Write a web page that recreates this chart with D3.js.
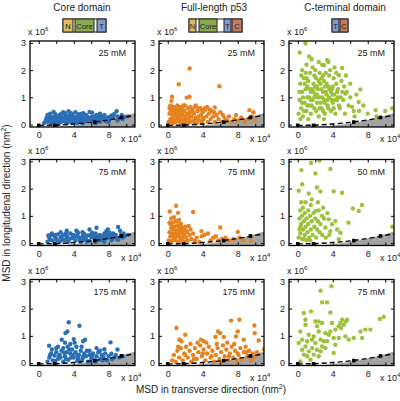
<!DOCTYPE html>
<html><head><meta charset="utf-8">
<script src="https://d3js.org/d3.v7.min.js"></script>
<style>body{margin:0;background:#fff}svg{display:block}text{font-family:"Liberation Sans",Arial,sans-serif;fill:#222;font-weight:normal}</style>
</head><body>
<svg id="c" width="400" height="401"></svg>
<script>
// ---------- data (x in units of 1e4 nm^2, y in units of 1e6 nm^2) ----------
const columnTitles = ["Core domain", "Full-length p53", "C-terminal domain"];
const concLabels = [["25 mM","25 mM","25 mM"],["75 mM","75 mM","50 mM"],["175 mM","175 mM","75 mM"]];
const xTicks = [0,2,4,6,8,10];
const xTickLabels = [0,4,8];
const yTicks = [0,1,2,3];
const seriesColors = ["#2a6fb6","#e6821f","#9cc23c"];

const core25 = [[0.6,0.05],[0.8,0.15],[1.0,0.1],[1.2,0.22],[1.3,0.4],[1.4,0.05],[1.5,0.28],[1.6,0.12],[1.7,0.46],[1.8,0.2],[1.9,0.08],[2.0,0.3],[2.1,0.16],[2.2,0.25],[2.3,0.05],[2.4,0.35],[2.5,0.18],[2.6,0.1],[2.7,0.27],[2.8,0.45],[2.9,0.2],[3.0,0.12],[3.1,0.32],[3.2,0.05],[3.3,0.22],[3.4,0.49],[3.5,0.15],[3.6,0.28],[3.7,0.08],[3.8,0.38],[3.9,0.2],[4.0,0.3],[4.1,0.12],[4.2,0.45],[4.3,0.24],[4.4,0.06],[4.5,0.33],[4.6,0.17],[4.7,0.26],[4.8,0.1],[4.9,0.4],[5.0,0.2],[5.1,0.3],[5.2,0.08],[5.3,0.23],[5.4,0.35],[5.5,0.14],[5.6,0.28],[5.8,0.46],[5.9,0.2],[6.0,0.1],[6.1,0.3],[6.3,0.22],[6.5,0.15],[6.6,0.35],[6.8,0.25],[7.0,0.4],[7.1,0.18],[7.3,0.3],[7.5,0.22],[7.7,0.12],[7.9,0.27],[8.1,0.2],[8.3,0.33],[8.5,0.25],[8.9,0.49],[9.0,0.3],[9.2,0.22],[9.5,0.35],[9.8,0.28],[10.2,0.3],[1.1,0.3],[2.0,0.05],[3.0,0.25],[4.0,0.15],[5.0,0.05],[6.0,0.25],[7.0,0.1],[1.5,0.15],[2.5,0.3],[3.5,0.35],[4.5,0.1],[5.5,0.3],[6.5,0.05],[7.5,0.35],[0.9,0.25],[1.3,0.18],[2.2,0.1],[3.3,0.12],[4.2,0.2],[5.2,0.18],[6.2,0.15],[8.0,0.1],[9.0,0.15],[1.0,0.35],[1.9,0.38],[2.6,0.4],[3.0,0.42],[3.7,0.42],[4.6,0.38],[5.1,0.42],[6.1,0.44],[6.9,0.3],[8.6,0.38],[9.6,0.2],[1.7,0.25],[2.4,0.2],[3.2,0.3],[4.4,0.28],[5.7,0.22],[6.4,0.3],[7.2,0.25],[8.2,0.28]];
const core75 = [[6.6,0.56],[9.07,0.59],[7.73,0.44],[7.5,0.35],[7.9,0.5],[2.5,0.4],[3.2,0.45],[4.3,0.45],[5.0,0.4],[5.8,0.5],[6.5,0.35],[8.5,0.35],[9.3,0.45],[9.7,0.35],[1.0,0.05],[1.2,0.2],[1.4,0.3],[1.6,0.1],[1.8,0.25],[2.0,0.15],[2.2,0.32],[2.4,0.05],[2.6,0.22],[2.8,0.3],[3.0,0.12],[3.2,0.25],[3.4,0.05],[3.6,0.35],[3.8,0.18],[4.0,0.28],[4.2,0.1],[4.4,0.3],[4.6,0.2],[4.8,0.05],[5.0,0.25],[5.2,0.33],[5.4,0.15],[5.6,0.28],[5.8,0.08],[6.0,0.22],[6.2,0.3],[6.4,0.12],[6.6,0.25],[6.8,0.18],[7.0,0.3],[7.2,0.1],[7.4,0.24],[7.6,0.15],[7.8,0.3],[8.0,0.2],[8.2,0.28],[8.4,0.15],[8.6,0.25],[8.8,0.3],[9.0,0.2],[9.4,0.3],[9.8,0.25],[10.2,0.3],[1.5,0.35],[2.5,0.2],[3.5,0.15],[4.5,0.38],[5.5,0.05],[6.5,0.05],[7.5,0.05],[1.1,0.28],[2.1,0.1],[3.1,0.35],[4.1,0.2],[5.1,0.12],[6.1,0.38],[7.1,0.22],[8.1,0.38],[9.1,0.12],[1.3,0.12],[1.9,0.3],[2.7,0.12],[3.3,0.2],[3.9,0.3],[4.7,0.12],[5.3,0.22],[5.9,0.3],[6.3,0.2],[6.9,0.1],[7.7,0.25],[8.3,0.1],[8.9,0.15],[9.6,0.2]];
const core175 = [[3.43,1.5],[4.65,1.37],[3.27,1.16],[3.05,1.1],[4.0,0.88],[2.63,0.86],[5.3,0.86],[5.07,0.8],[1.18,0.64],[8.2,0.76],[7.5,0.51],[6.6,0.55],[8.3,0.34],[9.0,0.5],[2.0,0.55],[2.8,0.55],[3.6,0.7],[4.3,0.6],[3.0,0.75],[5.8,0.45],[1.0,0.05],[1.2,0.2],[1.4,0.35],[1.6,0.1],[1.8,0.28],[2.0,0.4],[2.2,0.15],[2.4,0.3],[2.6,0.45],[2.8,0.05],[3.0,0.25],[3.2,0.4],[3.4,0.12],[3.6,0.35],[3.8,0.5],[4.0,0.2],[4.2,0.4],[4.4,0.08],[4.6,0.3],[4.8,0.45],[5.0,0.15],[5.2,0.35],[5.4,0.25],[5.6,0.05],[5.8,0.3],[6.0,0.18],[6.2,0.35],[6.4,0.1],[6.6,0.25],[6.8,0.4],[7.0,0.15],[7.2,0.3],[7.4,0.2],[7.6,0.35],[7.8,0.1],[8.0,0.25],[8.4,0.15],[8.8,0.3],[9.2,0.2],[9.6,0.25],[1.5,0.5],[2.5,0.2],[3.5,0.5],[4.5,0.18],[5.5,0.45],[6.5,0.05],[2.2,0.6],[3.3,0.6],[4.1,0.75],[4.9,0.6],[1.9,0.08],[2.9,0.38],[3.9,0.3],[4.7,0.05],[5.9,0.05],[7.0,0.45],[1.3,0.3],[2.3,0.25],[3.1,0.15],[3.7,0.2],[4.4,0.3],[5.1,0.25],[6.1,0.25],[7.3,0.1],[8.6,0.2]];

const fl25 = [[2.5,2.06],[1.26,1.48],[5.9,1.41],[2.17,0.99],[2.48,1.02],[0.5,1.02],[0.42,0.87],[5.37,0.63],[9.33,0.53],[0.1,0.1],[0.2,0.4],[0.3,0.7],[0.3,0.2],[0.4,0.55],[0.5,0.05],[0.5,0.35],[0.6,0.65],[0.7,0.15],[0.7,0.45],[0.8,0.3],[0.9,0.6],[0.9,0.1],[1.0,0.4],[1.1,0.2],[1.1,0.7],[1.2,0.5],[1.3,0.1],[1.3,0.3],[1.4,0.6],[1.5,0.2],[1.5,0.45],[1.6,0.05],[1.7,0.35],[1.7,0.65],[1.8,0.15],[1.9,0.5],[2.0,0.25],[2.0,0.7],[2.1,0.05],[2.2,0.4],[2.3,0.6],[2.4,0.2],[2.5,0.45],[2.6,0.1],[2.7,0.3],[2.8,0.55],[2.9,0.15],[3.0,0.4],[3.1,0.65],[3.2,0.25],[3.3,0.05],[3.4,0.5],[3.5,0.3],[3.6,0.15],[3.7,0.6],[3.8,0.35],[3.9,0.1],[4.0,0.45],[4.1,0.2],[4.3,0.55],[4.4,0.3],[4.6,0.1],[4.7,0.4],[4.9,0.2],[5.0,0.5],[5.2,0.3],[5.4,0.1],[5.6,0.35],[5.8,0.2],[6.0,0.45],[6.2,0.1],[6.5,0.25],[6.8,0.15],[7.0,0.3],[7.3,0.1],[7.6,0.2],[8.0,0.15],[8.4,0.25],[8.8,0.1],[9.2,0.2],[9.6,0.3],[10.0,0.15],[0.2,0.6],[0.6,0.25],[1.0,0.55],[1.4,0.4],[1.8,0.7],[2.2,0.15],[2.6,0.65],[3.0,0.1],[3.4,0.2],[3.8,0.55],[4.2,0.6],[0.8,0.5],[1.2,0.15],[1.6,0.55],[2.4,0.35],[4.5,0.65],[3.2,0.7],[0.4,0.15],[0.3,0.45],[0.6,0.05],[1.0,0.25],[1.5,0.65],[1.9,0.3],[2.3,0.05],[2.9,0.45],[3.5,0.6],[4.0,0.25],[4.8,0.55],[5.3,0.45],[6.3,0.35],[7.8,0.35],[9.8,0.45]];
const fl75 = [[0.95,1.37],[0.23,1.16],[1.18,1.11],[2.9,1.14],[1.1,0.81],[2.4,0.63],[6.0,0.57],[3.85,0.44],[8.0,0.41],[0.1,0.1],[0.2,0.4],[0.3,0.7],[0.3,0.25],[0.4,0.9],[0.4,0.55],[0.5,0.1],[0.5,0.35],[0.6,0.75],[0.6,0.5],[0.7,0.2],[0.7,0.95],[0.8,0.6],[0.8,0.35],[0.9,0.1],[0.9,0.8],[1.0,0.45],[1.0,0.25],[1.1,0.65],[1.2,0.05],[1.2,0.35],[1.3,0.55],[1.3,0.85],[1.4,0.2],[1.4,0.45],[1.5,0.7],[1.5,0.1],[1.6,0.35],[1.7,0.55],[1.7,0.2],[1.8,0.45],[1.9,0.05],[1.9,0.3],[2.0,0.6],[2.1,0.2],[2.2,0.4],[2.3,0.1],[2.5,0.3],[2.7,0.15],[2.9,0.35],[3.1,0.1],[3.3,0.2],[3.6,0.05],[3.9,0.25],[4.2,0.3],[4.6,0.35],[4.9,0.1],[5.2,0.2],[5.5,0.25],[5.8,0.1],[6.2,0.15],[6.6,0.2],[7.0,0.1],[7.5,0.15],[8.2,0.2],[8.6,0.1],[9.5,0.1],[0.2,0.75],[0.5,0.6],[0.8,0.15],[1.1,0.4],[1.4,0.65],[1.6,0.15],[2.1,0.45],[0.35,0.05],[0.65,0.3],[1.25,0.25],[2.6,0.5]];
const fl175 = [[0.99,1.29],[1.33,0.86],[1.56,0.8],[2.0,1.04],[3.8,0.86],[4.08,0.81],[5.45,0.96],[5.75,1.16],[6.0,1.1],[6.4,0.96],[7.24,1.56],[8.19,1.59],[8.0,1.16],[7.8,0.98],[9.9,1.38],[9.94,1.1],[10.4,0.83],[8.69,0.86],[11.0,0.51],[0.5,0.1],[0.7,0.3],[0.9,0.05],[1.1,0.45],[1.3,0.2],[1.5,0.55],[1.7,0.1],[1.9,0.35],[2.1,0.6],[2.3,0.2],[2.5,0.45],[2.7,0.05],[2.9,0.3],[3.1,0.55],[3.3,0.15],[3.5,0.4],[3.7,0.65],[3.9,0.25],[4.1,0.5],[4.3,0.1],[4.5,0.35],[4.7,0.6],[4.9,0.2],[5.1,0.45],[5.3,0.05],[5.5,0.3],[5.7,0.55],[5.9,0.15],[6.1,0.4],[6.3,0.65],[6.5,0.25],[6.7,0.5],[6.9,0.1],[7.1,0.35],[7.3,0.6],[7.5,0.2],[7.7,0.45],[7.9,0.05],[8.1,0.3],[8.3,0.55],[8.5,0.15],[8.7,0.4],[8.9,0.6],[9.1,0.25],[9.3,0.45],[9.5,0.1],[9.7,0.35],[9.9,0.2],[10.2,0.4],[2.0,0.3],[3.0,0.15],[4.0,0.35],[5.0,0.25],[6.0,0.05],[7.0,0.25],[8.0,0.35],[9.0,0.4],[2.6,0.7],[4.4,0.75],[6.8,0.75],[1.2,0.6],[3.4,0.75],[5.6,0.7],[7.6,0.7]];

const ct25 = [[0.88,2.98],[0.23,2.65],[3.35,2.37],[3.5,2.3],[3.0,2.18],[5.07,2.08],[4.7,1.81],[7.16,1.29],[6.97,0.83],[5.45,1.14],[6.2,0.65],[10.0,0.5],[8.9,0.53],[0.1,0.4],[0.2,0.9],[0.3,1.5],[0.4,0.6],[0.5,1.2],[0.5,2.0],[0.6,0.3],[0.7,1.7],[0.8,0.8],[0.9,1.3],[1.0,0.5],[1.0,2.2],[1.1,1.0],[1.2,1.6],[1.3,0.7],[1.4,1.9],[1.5,1.2],[1.5,0.4],[1.6,2.4],[1.7,0.9],[1.8,1.5],[1.9,0.6],[2.0,1.1],[2.0,2.0],[2.1,1.7],[2.2,0.8],[2.3,1.3],[2.4,0.3],[2.5,1.9],[2.5,1.0],[2.6,1.5],[2.7,0.6],[2.8,2.2],[2.9,1.2],[3.0,0.9],[3.0,1.6],[3.1,0.4],[3.2,1.9],[3.3,1.1],[3.4,0.7],[3.5,1.4],[3.6,1.0],[3.7,2.0],[3.8,0.5],[3.9,1.3],[4.0,0.8],[4.1,1.7],[4.2,1.1],[4.3,0.4],[4.4,1.5],[4.5,0.9],[4.6,1.3],[4.8,0.6],[5.0,1.6],[5.2,0.9],[5.4,0.4],[5.6,1.2],[5.8,0.7],[6.0,1.0],[6.4,0.5],[6.7,1.1],[7.5,0.7],[8.0,0.4],[0.3,0.2],[0.6,1.0],[0.9,1.9],[1.2,0.2],[1.4,1.3],[1.7,2.1],[1.9,1.0],[2.2,1.4],[2.4,2.3],[2.7,1.7],[3.0,0.2],[3.3,1.5],[3.6,1.8],[3.9,0.9],[4.2,2.1],[4.5,1.2],[4.9,1.0],[5.3,1.4],[0.4,1.8],[0.7,0.5],[1.1,1.4],[1.3,2.5],[1.6,0.7],[2.1,0.5],[2.3,1.0],[2.6,0.8],[2.9,1.8],[3.2,1.2],[3.5,0.6],[3.8,1.2],[4.1,0.6],[4.4,1.9],[4.7,0.7],[5.5,1.8],[6.0,1.5],[6.5,0.3],[7.0,0.5],[9.0,0.3],[10.8,0.6],[0.2,1.2],[0.8,1.5],[1.5,0.9],[2.0,1.4],[2.8,1.0],[3.4,0.9],[4.0,1.4],[4.6,1.0],[1.1,0.7],[1.8,1.2],[2.5,0.6],[3.1,1.4],[0.5,0.8],[1.0,1.7],[1.3,1.0],[1.7,1.3],[2.2,1.1],[2.4,1.6],[2.7,1.3],[3.1,0.8],[3.6,1.3],[4.0,1.1],[4.3,0.9],[5.1,1.2],[1.9,1.8],[2.9,0.5]];
const ct50 = [[2.48,3.03],[1.52,2.94],[0.42,2.68],[3.73,2.72],[2.02,2.56],[0.5,2.16],[0.11,1.92],[1.26,1.82],[2.2,2.04],[2.59,1.9],[4.11,1.9],[5.07,1.85],[6.3,1.27],[7.35,1.4],[6.97,1.18],[10.8,0.6],[4.69,0.14],[4.3,0.81],[4.88,0.38],[3.16,0.57],[3.73,0.44],[2.02,1.18],[2.78,1.0],[3.54,0.87],[3.92,0.69],[4.5,0.5],[5.8,0.75],[0.1,0.2],[0.2,0.5],[0.2,0.9],[0.3,1.2],[0.3,0.35],[0.4,0.7],[0.5,1.0],[0.5,0.15],[0.6,0.5],[0.6,1.3],[0.7,0.8],[0.8,0.3],[0.8,1.1],[0.9,0.6],[1.0,0.9],[1.0,0.1],[1.1,0.4],[1.2,1.2],[1.2,0.7],[1.3,0.2],[1.4,1.0],[1.5,0.5],[1.6,0.8],[1.7,0.3],[1.8,1.1],[1.9,0.6],[2.0,0.9],[2.1,0.2],[2.2,0.5],[2.3,0.8],[2.4,1.2],[2.5,0.4],[2.6,0.7],[2.8,0.3],[3.0,0.9],[3.2,0.2],[3.4,1.1],[3.6,0.3],[0.4,1.5],[0.9,1.5],[1.5,1.4],[2.3,1.5],[0.7,0.15],[1.4,0.1],[0.3,0.6],[1.6,1.6],[2.9,1.3]];
const ct75 = [[3.85,2.82],[2.6,2.66],[2.78,2.23],[3.35,2.23],[1.52,1.9],[0.69,1.84],[3.73,1.86],[5.07,1.59],[5.64,1.59],[9.83,1.69],[9.37,1.62],[8.3,1.23],[7.73,1.23],[4.95,1.29],[6.4,0.92],[5.45,0.98],[7.35,0.92],[0.11,0.74],[0.88,1.59],[0.88,1.41],[2.02,1.53],[2.4,1.53],[2.2,1.35],[2.78,1.47],[0.3,1.16],[1.26,1.04],[1.83,0.98],[2.4,1.16],[3.16,1.1],[3.54,1.04],[3.73,1.16],[4.3,1.23],[4.69,1.35],[5.26,1.41],[5.5,1.53],[4.69,0.92],[5.83,0.86],[4.3,0.67],[4.11,0.37],[0.5,0.49],[0.88,0.61],[1.26,0.43],[1.64,0.55],[1.83,0.31],[2.2,0.49],[2.6,0.43],[2.78,0.61],[1.45,0.12],[0.3,0.06],[2.97,0.8],[3.35,0.8],[0.5,0.86],[1.07,0.8],[1.64,0.86],[2.02,0.74],[2.6,0.86],[4.11,0.92],[0.69,0.31],[1.07,0.25],[2.4,0.25],[3.16,0.55],[3.92,1.47],[4.88,1.47],[7.16,1.16]];

// mean MSD values with error bars, dashed model line, and shaded region boundary
const meanX = [0, 1.8, 6.4, 9.45];
const meanY = [-0.03, -0.03, 0.09, 0.26];
const meanErr = [0.03, 0.03, 0.05, 0.06];
const modelLine = [[0,-0.03],[2,-0.02],[4,0.02],[6,0.08],[8,0.17],[10,0.28],[11,0.34]];
const shadeTop = [[1.5,-0.09],[3,-0.07],[5,0.0],[7,0.1],[9,0.24],[11,0.42]];

const panelData = [[core25, fl25, ct25],[core75, fl75, ct50],[core175, fl175, ct75]];

// ---------- layout ----------
const colLeft = [30, 159, 289];
const rowTop = [41, 159.5, 279.5];
const PW = 105, PH = 86;
const svg = d3.select("#c");
const x = d3.scaleLinear().domain([-1, 11]).range([0, PW]);
const y = d3.scaleLinear().domain([-0.09, 3.07]).range([PH, 0]);

svg.append("defs").append("clipPath").attr("id","clip").append("rect").attr("width",PW).attr("height",PH);

for (let r = 0; r < 3; r++) {
  for (let c = 0; c < 3; c++) {
    const g = svg.append("g").attr("transform", `translate(${colLeft[c]},${rowTop[r]})`);
    const inner = g.append("g").attr("clip-path","url(#clip)");
    inner.append("path").datum(shadeTop)
      .attr("d", d3.area().x(d=>x(d[0])).y0(PH).y1(d=>y(d[1])).curve(d3.curveMonotoneX))
      .attr("fill", "#a3a3a3");
    inner.selectAll("circle").data(panelData[r][c]).join("circle")
      .attr("cx", d=>x(d[0])).attr("cy", d=>y(d[1])).attr("r", 2.2)
      .attr("fill", seriesColors[c]);
    inner.append("path").datum(modelLine)
      .attr("d", d3.line().x(d=>x(d[0])).y(d=>y(d[1])).curve(d3.curveMonotoneX))
      .attr("fill","none").attr("stroke","#000").attr("stroke-width",1.4).attr("stroke-dasharray","5,3");
    meanX.forEach((mx,i) => {
      inner.append("line").attr("x1",x(mx)).attr("x2",x(mx))
        .attr("y1",y(meanY[i]-meanErr[i])).attr("y2",y(meanY[i]+meanErr[i]))
        .attr("stroke","#000").attr("stroke-width",1.2);
      inner.append("rect").attr("x",x(mx)-1.8).attr("y",y(meanY[i])-1.8)
        .attr("width",3.6).attr("height",3.6).attr("fill","#000");
    });
    const ax = g.append("g");
    ax.append("g").attr("transform",`translate(0,${PH})`)
      .call(d3.axisBottom(x).tickValues(xTicks).tickSize(-3).tickPadding(5)
        .tickFormat(d => xTickLabels.includes(d) ? d3.format("d")(d) : ""));
    ax.append("g").call(d3.axisTop(x).tickValues(xTicks).tickSize(-3).tickFormat(""));
    ax.append("g").call(d3.axisLeft(y).tickValues(yTicks).tickSize(-3).tickPadding(4).tickFormat(d3.format("d")));
    ax.append("g").attr("transform",`translate(${PW},0)`)
      .call(d3.axisRight(y).tickValues(yTicks).tickSize(-3).tickFormat(""));
    ax.selectAll(".domain").remove();
    ax.selectAll("g").attr("font-family",null).attr("font-size",null);
    ax.selectAll("text").attr("font-size",9).attr("fill","#222");
    ax.selectAll("line").attr("stroke","#000");
    g.append("rect").attr("width",PW).attr("height",PH).attr("fill","none").attr("stroke","#000").attr("stroke-width",1.3);
    g.append("text").attr("x", PW-9).attr("y", 15).attr("text-anchor","end").attr("font-size",9).text(concLabels[r][c]);
    const e6 = g.append("text").attr("x",-2).attr("y",-6).attr("font-size",9);
    e6.append("tspan").text("x 10");
    e6.append("tspan").attr("font-size",6).attr("dy",-4).text("6");
    const e4 = g.append("text").attr("x",PW-14).attr("y",PH+15).attr("font-size",9);
    e4.append("tspan").text("x 10");
    e4.append("tspan").attr("font-size",6).attr("dy",-4).text("4");
  }
}

const titleX = [82, 214, 345];
columnTitles.forEach((t,i) => svg.append("text").attr("x",titleX[i]).attr("y",11)
  .attr("text-anchor","middle").attr("font-size",10).text(t));

const domainColors = {N:"#e2b95a", Core:"#8aab4f", T:"#8198cc", C:"#c27a5c"};
const diagrams = [
  {frame:[63,106], parts:[["N",63,73],["Core",75,94],["T",97,106]]},
  {frame:[189,242], parts:[["N",189,196],["Core",199,217],["T",224,231],["C",232,242]]},
  {frame:[332,348], parts:[["T",332,339],["C",340,348]]}
];
diagrams.forEach(dg => {
  const g = svg.append("g");
  g.append("rect").attr("x",dg.frame[0]).attr("y",19).attr("width",dg.frame[1]-dg.frame[0]).attr("height",13)
    .attr("fill","#fff").attr("stroke","#222").attr("stroke-width",1);
  dg.parts.forEach(p => {
    g.append("rect").attr("x",p[1]).attr("y",19).attr("width",p[2]-p[1]).attr("height",13)
      .attr("fill",domainColors[p[0]]).attr("stroke","#222").attr("stroke-width",1);
    g.append("text").attr("x",(p[1]+p[2])/2).attr("y",28.5).attr("text-anchor","middle")
      .attr("font-size",7.5).text(p[0]);
  });
});

const yl = svg.append("text").attr("transform","translate(10,203) rotate(-90)").attr("text-anchor","middle").attr("font-size",10);
yl.append("tspan").text("MSD in longitudenal direction (nm");
yl.append("tspan").attr("font-size",7).attr("dy",-4).text("2");
yl.append("tspan").attr("dy",4).text(")");
const xl = svg.append("text").attr("x",211).attr("y",393).attr("text-anchor","middle").attr("font-size",10);
xl.append("tspan").text("MSD in transverse direction (nm");
xl.append("tspan").attr("font-size",7).attr("dy",-4).text("2");
xl.append("tspan").attr("dy",4).text(")");
</script>
</body></html>
